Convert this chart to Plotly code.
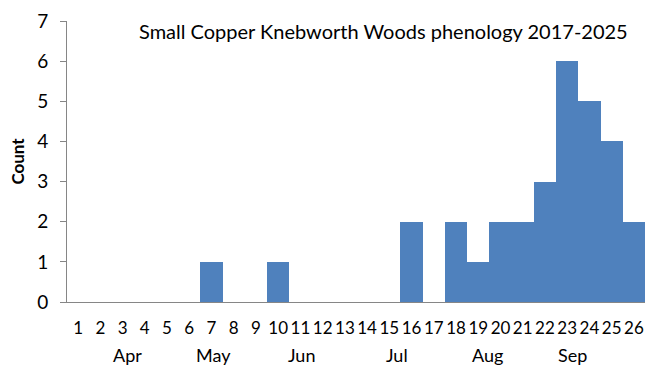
import plotly.graph_objects as go

weeks = list(range(1, 27))
counts = [0, 0, 0, 0, 0, 0, 1, 0, 0, 1, 0, 0, 0, 0, 0, 2, 0, 2, 1, 2, 2, 3, 6, 5, 4, 2]
months = ["Apr", "May", "Jun", "Jul", "Aug", "Sep"]
month_pos = [3.2, 7.07, 11.07, 15.35, 19.4, 23.26]
title = "Small Copper Knebworth Woods phenology 2017-2025"

FONT = "Lato, 'Open Sans', sans-serif"

fig = go.Figure()
fig.add_trace(go.Bar(x=weeks, y=counts, marker=dict(color="#4F81BD", line=dict(width=0)), width=1.0))

for m, p in zip(months, month_pos):
    fig.add_annotation(x=p, y=0, xref="x", yref="y", yshift=-53, text=m, showarrow=False,
                       font=dict(family=FONT, size=18, color="#000"), yanchor="middle")

fig.add_annotation(x=0.974, y=0.965, xref="paper", yref="paper", text=title, showarrow=False,
                   xanchor="right", yanchor="middle", font=dict(family=FONT, size=20, color="#000"))

fig.update_layout(
    width=654, height=370,
    margin=dict(l=67, r=9, t=21, b=68),
    paper_bgcolor="white", plot_bgcolor="white",
    showlegend=False, bargap=0,
    font=dict(family=FONT, size=16, color="#000"),
    xaxis=dict(range=[0.5, 26.5], tickmode="array", tickvals=weeks, ticktext=[str(w) for w in weeks],
               showgrid=False, zeroline=False, showline=True, linecolor="#868686", linewidth=1,
               ticks="", tickangle=0, ticklabelstandoff=11, tickfont=dict(family=FONT, size=17, color="#000")),
    yaxis=dict(range=[0, 7], dtick=1, showgrid=False, zeroline=False, showline=True,
               linecolor="#868686", linewidth=1, ticks="outside", ticklen=6, tickcolor="#868686",
               ticklabelstandoff=8,
               tickfont=dict(family=FONT, size=19, color="#000"),
               title=dict(text="<b>Count</b>", font=dict(family=FONT, size=17, color="#000"), standoff=8)),
)

fig.write_html("out.html")
